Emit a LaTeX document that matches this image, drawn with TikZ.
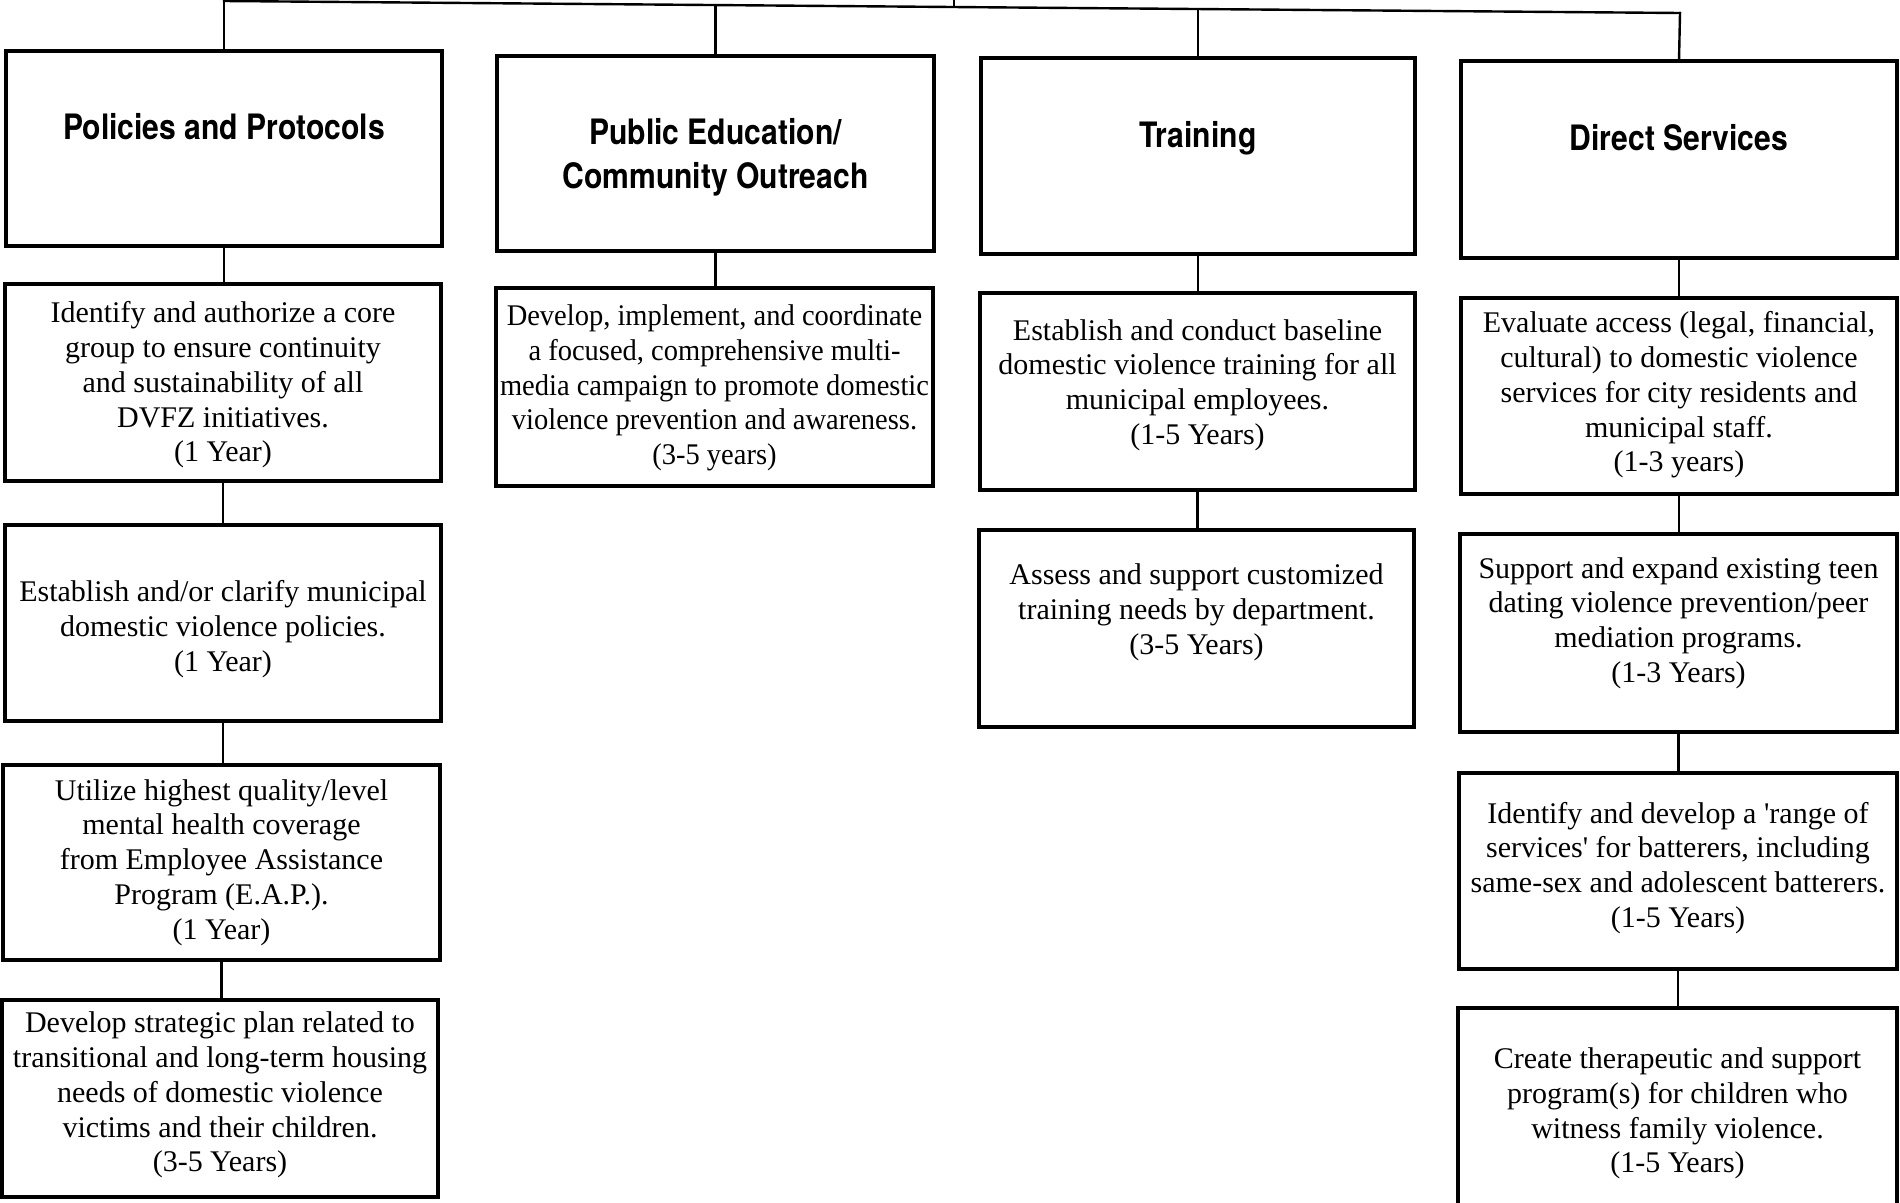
\documentclass[tikz,border=0pt]{standalone}
\usepackage{fontspec}
\setmainfont{Liberation Serif}
\newfontfamily\hdrfam[FakeStretch=0.86]{TeX Gyre Heros}
\newfontfamily\narrowserif[FakeStretch=0.95]{Liberation Serif}
\usetikzlibrary{fit,calc}
\begin{document}
\begin{tikzpicture}[x=1pt,y=-1pt,
  box/.style={draw=black, line width=3.2pt, inner sep=0pt, outer sep=0pt},
  conn/.style={draw=black, line width=2.4pt, line cap=rect},
  txt/.style={align=center, inner sep=0pt, font=\fontsize{30}{34.8}\selectfont},
  ntxt/.style={align=center, inner sep=0pt, font=\narrowserif\fontsize{30}{34.8}\selectfont},
  hdr/.style={align=center, inner sep=0pt, font=\hdrfam\bfseries\fontsize{35}{44}\selectfont}]
\useasboundingbox (0,0) rectangle (1900,1202);
\clip (0,0) rectangle (1900,1202);

% ---------- boxes ----------
\node[box, fit={(6,51)(442,246)}] (H1) {};
\node[box, fit={(5,284)(441,481)}] (B1a) {};
\node[box, fit={(5,525)(441,721)}] (B1b) {};
\node[box, fit={(3,765)(440,960)}] (B1c) {};
\node[box, fit={(2,1000)(438,1197)}] (B1d) {};

\node[box, fit={(497,56)(934,251)}] (H2) {};
\node[box, fit={(496,288)(933,486)}] (B2a) {};

\node[box, fit={(981,58)(1415,254)}] (H3) {};
\node[box, fit={(980,293)(1415,490)}] (B3a) {};
\node[box, fit={(979,530)(1414,727)}] (B3b) {};

\node[box, fit={(1461,61)(1897,258)}] (H4) {};
\node[box, fit={(1461,298)(1897,494)}] (B4a) {};
\node[box, fit={(1460,534)(1897,732)}] (B4b) {};
\node[box, fit={(1459,773)(1897,969)}] (B4c) {};
\node[box, fit={(1458,1008)(1897,1240)}] (B4d) {};

% ---------- headings ----------
\node[hdr] (tH1) at ([yshift=22pt]H1.center) {Policies and Protocols};
\node[hdr] (tH2) at ([yshift=-4pt]H2.center) {Public Education/\\Community Outreach};
\node[hdr] (tH3) at ([yshift=18pt]H3.center) {Training};
\node[hdr] (tH4) at ([yshift=21.5pt]H4.center) {Direct Services};

% ---------- texts ----------
\node[txt] (t1a) at ([yshift=-2.5pt]B1a.center) {Identify and authorize a core\\group to ensure continuity\\and sustainability of all\\DVFZ initiatives.\\(1 Year)};
\node[txt] (t1b) at ([yshift=-6pt]B1b.center) {Establish and/or clarify municipal\\domestic violence policies.\\(1 Year)};
\node[txt] (t1c) at (B1c.center) {Utilize highest quality/level\\mental health coverage\\from Employee Assistance\\Program (E.A.P.).\\(1 Year)};
\node[txt] (t1d) at ([yshift=3.5pt]B1d.center) {Develop strategic plan related to\\transitional and long-term housing\\needs of domestic violence\\victims and their children.\\(3-5 Years)};

\node[ntxt] (t2a) at ([yshift=-1pt]B2a.center) {Develop, implement, and coordinate\\a focused, comprehensive multi-\\media campaign to promote domestic\\violence prevention and awareness.\\(3-5 years)};

\node[txt] (t3a) at ([yshift=6.5pt]B3a.center) {Establish and conduct baseline\\domestic violence training for all\\municipal employees.\\(1-5 Years)};
\node[txt] (t3b) at ([yshift=16pt]B3b.center) {Assess and support customized\\training needs by department.\\(3-5 Years)};

\node[txt] (t4a) at ([yshift=1pt]B4a.center) {Evaluate access (legal, financial,\\cultural) to domestic violence\\services for city residents and\\municipal staff.\\(1-3 years)};
\node[txt] (t4b) at ([yshift=10pt]B4b.center) {Support and expand existing teen\\dating violence prevention/peer\\mediation programs.\\(1-3 Years)};
\node[txt] (t4c) at ([yshift=3pt]B4c.center) {Identify and develop a \textquotesingle range of\\services\textquotesingle{} for batterers, including\\same-sex and adolescent batterers.\\(1-5 Years)};
\node[txt] (t4d) at ([yshift=-105.5pt]B4d.north) {Create therapeutic and support\\program(s) for children who\\witness family violence.\\(1-5 Years)};

% ---------- top bus ----------
\coordinate (bus1) at (224,1);
\coordinate (bus2) at (715.5,5);
\coordinate (bus3) at (1198,9);
\coordinate (bus4) at (1680,13);
\coordinate (busc) at (954,7);
\coordinate (topc) at (954,-4);
\draw[conn] (bus1) -- (bus4);
\draw[conn] (busc) -- (topc);
\draw[conn] (H1.north) -- (bus1);
\draw[conn] (H2.north) -- (bus2);
\draw[conn] (H3.north) -- (bus3);
\draw[conn] (H4.north) -- (bus4);

% ---------- column connectors ----------
\draw[conn] (H1.south) -- (H1.south |- B1a.north);
\draw[conn] (B1a.south) -- (B1a.south |- B1b.north);
\draw[conn] (B1b.south) -- (B1b.south |- B1c.north);
\draw[conn] (B1c.south) -- (B1c.south |- B1d.north);
\draw[conn] (H2.south) -- (H2.south |- B2a.north);
\draw[conn] (H3.south) -- (H3.south |- B3a.north);
\draw[conn] (B3a.south) -- (B3a.south |- B3b.north);
\draw[conn] (H4.south) -- (H4.south |- B4a.north);
\draw[conn] (B4a.south) -- (B4a.south |- B4b.north);
\draw[conn] (B4b.south) -- (B4b.south |- B4c.north);
\draw[conn] (B4c.south) -- (B4c.south |- B4d.north);
\end{tikzpicture}
\end{document}
